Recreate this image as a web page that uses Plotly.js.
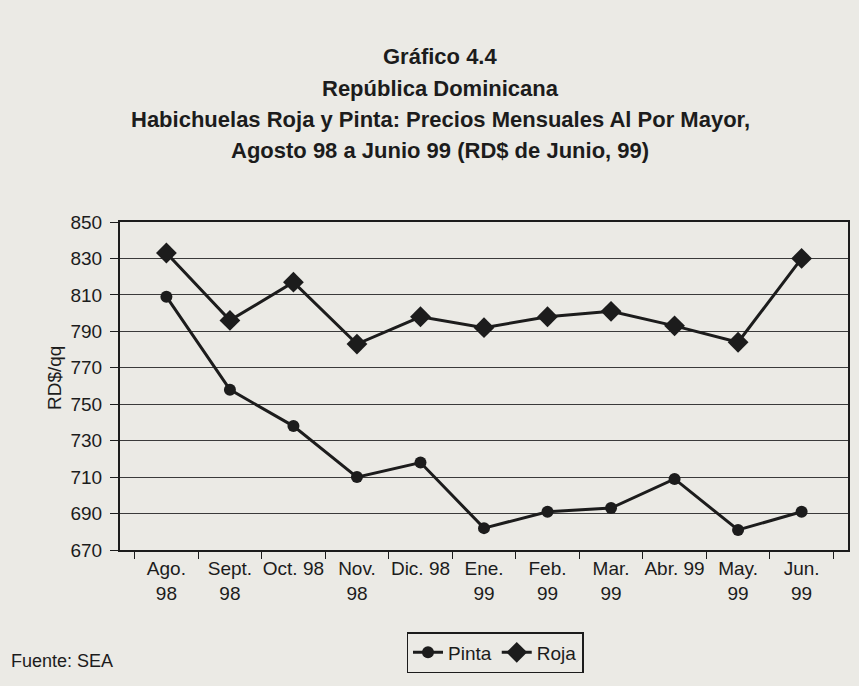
<!DOCTYPE html>
<html>
<head>
<meta charset="utf-8">
<script src="https://cdn.plot.ly/plotly-3.0.1.min.js"></script>
<style>
html,body{margin:0;padding:0;background:#ebeae5;}
#chart{width:859px;height:686px;}
</style>
</head>
<body>
<div id="chart"></div>
<script>
const months = ["Ago.<br>98","Sept.<br>98","Oct. 98","Nov.<br>98","Dic. 98","Ene.<br>99","Feb.<br>99","Mar.<br>99","Abr. 99","May.<br>99","Jun.<br>99"];
const pinta = [809, 758, 738, 710, 718, 682, 691, 693, 709, 681, 691];
const roja  = [833, 796, 817, 783, 798, 792, 798, 801, 793, 784, 830];
const yTicks = [670, 690, 710, 730, 750, 770, 790, 810, 830, 850];
const titleLines = ["Gráfico 4.4", "República Dominicana",
  "Habichuelas Roja y Pinta: Precios Mensuales Al Por Mayor,",
  "Agosto 98 a Junio 99 (RD$ de Junio, 99)"];

const ink = '#1c1c1c';
const bg = '#ebeae5';
const font = 'Liberation Sans, Arial, sans-serif';

const traces = [
  {x: months, y: pinta, name: 'Pinta', type: 'scatter', mode: 'lines+markers',
   line: {color: ink, width: 3}, marker: {symbol: 'circle', size: 12, color: ink}},
  {x: months, y: roja, name: 'Roja', type: 'scatter', mode: 'lines+markers',
   line: {color: ink, width: 3}, marker: {symbol: 'diamond', size: 16, color: ink}}
];

// plot area: top 222px, bottom 550px
const pTop = 222, pBot = 550, pLeft = 120, pRight = 848;
const py = v => (pBot - v) / (pBot - pTop);
const px = v => (v - pLeft) / (pRight - pLeft);

const titleY = [56, 88, 119, 150];
const annotations = titleLines.map((t, i) => ({
  text: '<b>' + t + '</b>', xref: 'paper', yref: 'paper',
  x: px(440), y: py(titleY[i]), xanchor: 'center', yanchor: 'middle',
  showarrow: false, font: {family: font, size: 22, color: ink}
}));
annotations.push(
  {text: 'RD$/qq', textangle: -90, xref: 'paper', yref: 'paper',
   x: px(54), y: py(378), xanchor: 'center', yanchor: 'middle', showarrow: false,
   font: {family: font, size: 19, color: ink}},
  {text: 'Fuente: SEA', xref: 'paper', yref: 'paper',
   x: px(9), y: py(661), xanchor: 'left', yanchor: 'middle', showarrow: false,
   font: {family: font, size: 18, color: ink}}
);

const layout = {
  width: 859, height: 686,
  paper_bgcolor: bg, plot_bgcolor: bg,
  margin: {l: pLeft, r: 859 - pRight, t: pTop, b: 686 - pBot},
  font: {family: font, color: ink, size: 19},
  showlegend: true,
  legend: {
    orientation: 'h', x: px(495), xanchor: 'center', y: py(632), yanchor: 'top',
    bordercolor: ink, borderwidth: 1.5, bgcolor: bg,
    font: {family: font, size: 19, color: ink},
    itemwidth: 30, tracegroupgap: 0
  },
  xaxis: {
    type: 'category',
    showline: true, linecolor: ink, linewidth: 2, mirror: true,
    showgrid: false, zeroline: false,
    ticks: 'outside', ticklen: 7, tickcolor: ink, tickson: 'boundaries',
    tickfont: {family: font, size: 19, color: ink},
    tickangle: 0
  },
  yaxis: {
    range: [670, 850], tickvals: yTicks, ticktext: yTicks.map(String),
    showline: true, linecolor: ink, linewidth: 2, mirror: true,
    showgrid: true, gridcolor: '#3a3a3a', gridwidth: 1, zeroline: false,
    ticks: 'outside', ticklen: 8, tickcolor: ink, ticklabelstandoff: 4,
    tickfont: {family: font, size: 19, color: ink}
  },
  annotations: annotations
};

Plotly.newPlot('chart', traces, layout, {displayModeBar: false, staticPlot: true});
</script>
</body>
</html>
